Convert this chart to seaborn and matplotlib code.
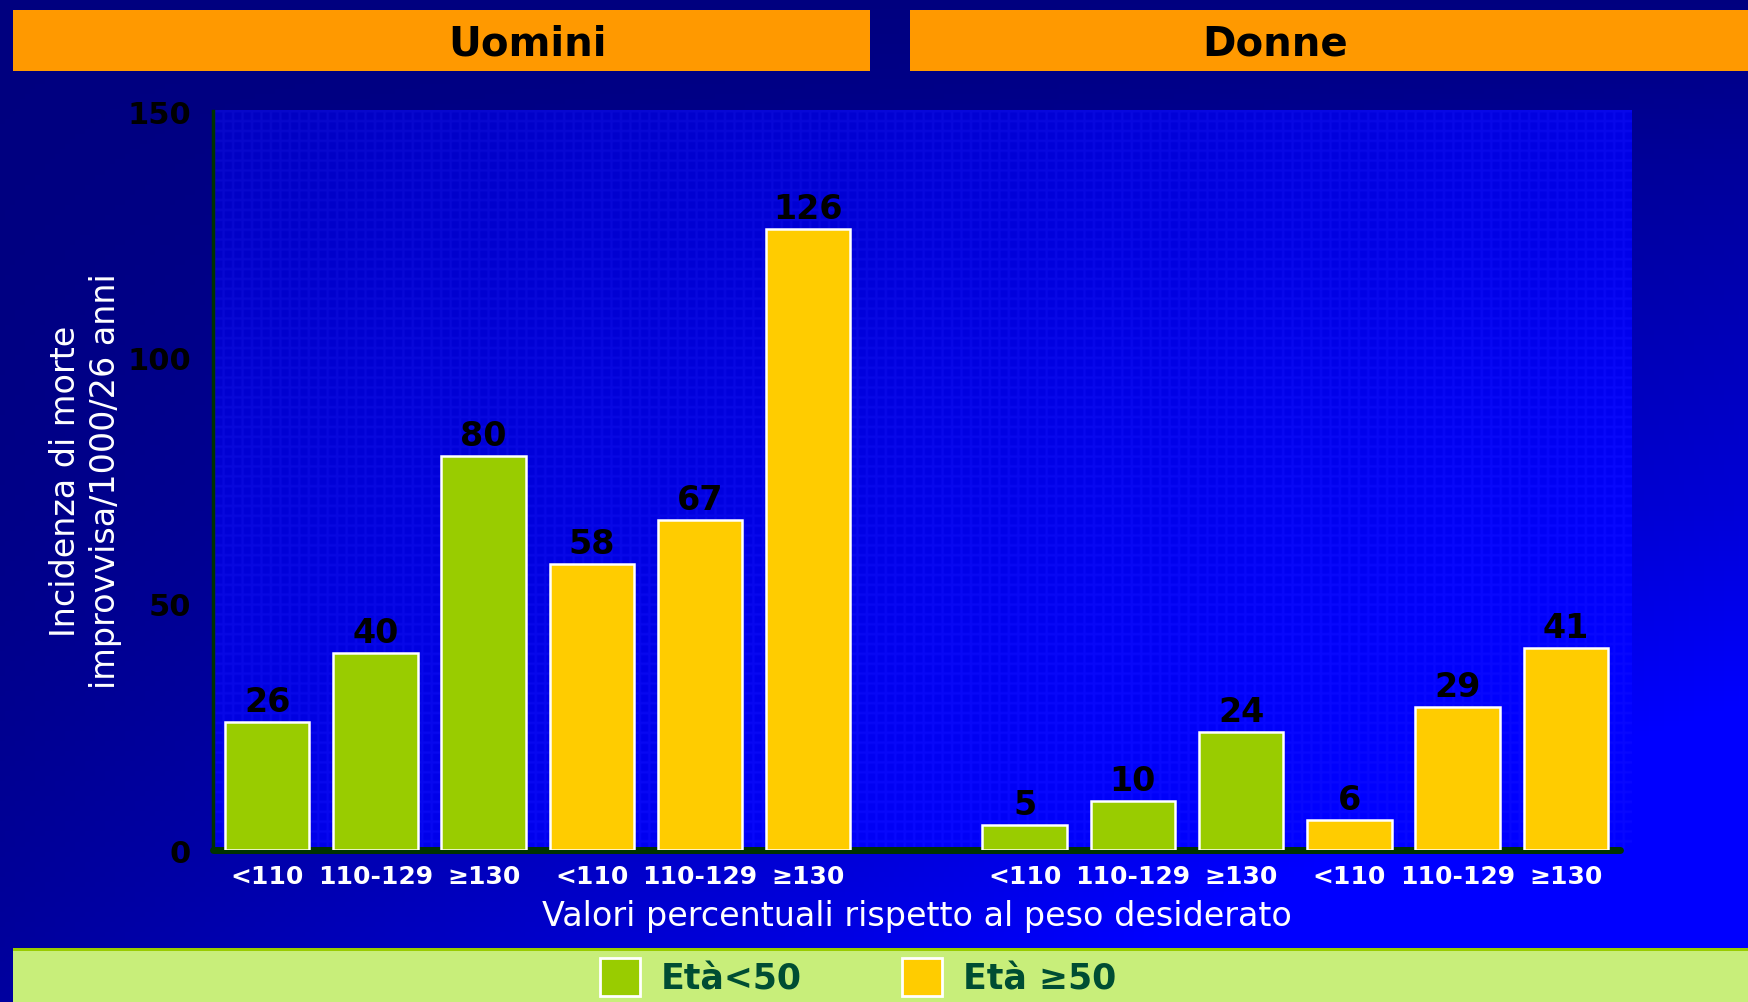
import numpy as np
import pandas as pd
import matplotlib.pyplot as plt
from matplotlib.patches import Rectangle
import seaborn as sns

# Data ==============================================================================
sex = ['Uomini', 'Donne']
age_groups = ['Età<50', 'Età ≥50']
weight_cats = ['<110', '110-129', '≥130']
uomini_young = [26, 40, 80]
uomini_old = [58, 67, 126]
donne_young = [5, 10, 24]
donne_old = [6, 29, 41]

green = '#99CC00'
yellow = '#FFCC00'

rows = []
for s, young, old in [(sex[0], uomini_young, uomini_old), (sex[1], donne_young, donne_old)]:
    for age, vals in [(age_groups[0], young), (age_groups[1], old)]:
        for w, v in zip(weight_cats, vals):
            rows.append({'slot': s + '|' + age + '|' + w, 'age': age, 'weight': w, 'value': v})
df = pd.DataFrame(rows)

order = list(df.loc[df.slot.str.startswith('Uomini'), 'slot']) + ['gap'] + \
        list(df.loc[df.slot.str.startswith('Donne'), 'slot'])

# Figure ==============================================================================
sns.set_style('white')
plt.rcParams['font.family'] = ['DejaVu Sans']

fig = plt.figure(figsize=(17.49, 10.03), dpi=100)

# background gradient (navy -> blue)
bg = fig.add_axes([0, 0, 1, 1], zorder=-10)
yy, xx = np.mgrid[0:1:200j, 0:1:350j]
s = np.clip(1.25 * xx * yy + 0.25 * yy * yy, 0, 1)
img = np.zeros((200, 350, 3))
img[..., 2] = 0.5 + 0.5 * s
bg.imshow(img, aspect='auto', extent=[0, 1, 0, 1], origin='upper')
bg.set_axis_off()

ax = fig.add_axes([0.1218, 0.1515, 0.8044, 0.7368])

sns.barplot(data=df, x='slot', y='value', hue='age', order=order,
            hue_order=age_groups, palette=[green, yellow], dodge=False,
            width=0.78, edgecolor='white', linewidth=1.8, saturation=1,
            ax=ax, zorder=3)

# plot-area gradient with faint grid texture
yy2, xx2 = np.mgrid[0:1:300j, 0:1:600j]
s2 = np.clip(0.55 * xx2 + 0.6 * yy2, 0, 1)
pimg = np.zeros((300, 600, 3))
pimg[..., 2] = 0.76 + 0.24 * s2
grid = ((np.arange(600) % 4 == 0)[None, :] | (np.arange(300) % 4 == 0)[:, None])
pimg[..., 0] += grid * 0.03
pimg[..., 1] += grid * 0.03
pimg[..., 2] += grid * 0.03
pimg = np.clip(pimg, 0, 1)
ax.imshow(pimg, aspect='auto', extent=[0, 1.008, 0, 1], transform=ax.transAxes,
          zorder=0, clip_on=False)

ax.set_xlim(-0.5, 12.5)
ax.set_ylim(0, 150)
ax.set_yticks([0, 50, 100, 150])
ax.set_yticklabels(['0', '50', '100', '150'], fontsize=22, fontweight='heavy', color='black')
ax.set_xticks(range(len(order)))
ax.set_xticklabels([o.split('|')[2] if o != 'gap' else '' for o in order],
                   fontsize=18, fontweight='bold', color='white')
ax.tick_params(axis='x', length=0, pad=10)
ax.tick_params(axis='y', length=0, pad=16)

for c in ax.containers:
    ax.bar_label(c, fontsize=24, fontweight='heavy', color='black', padding=3)

for side in ['top', 'right']:
    ax.spines[side].set_visible(False)
ax.spines['left'].set_color('#003300')
ax.spines['left'].set_linewidth(2.5)
ax.spines['bottom'].set_color('#003300')
ax.spines['bottom'].set_linewidth(5)
ax.spines['bottom'].set_capstyle('round')
ax.set_facecolor('none')

ax.set_xlabel('Valori percentuali rispetto al peso desiderato', fontsize=24,
              color='white', labelpad=8)
ax.set_ylabel('Incidenza di morte\nimprovvisa/1000/26 anni', fontsize=24,
              color='white', labelpad=4, linespacing=1.25)
ax.get_legend().remove()

# header bands
W, H = 1749, 1003
for x0, x1 in [(13, 870), (910, 1749)]:
    fig.patches.append(Rectangle((x0 / W, 1 - 72 / H), (x1 - x0) / W, 61 / H,
                                 transform=fig.transFigure, facecolor='#FF9900',
                                 edgecolor='none', zorder=1))
fig.text(528 / W, 1 - 45 / H, sex[0], ha='center', va='center',
         fontsize=29, fontweight='bold', color='black')
fig.text(1275 / W, 1 - 45 / H, sex[1], ha='center', va='center',
         fontsize=29, fontweight='bold', color='black')

# legend band
fig.patches.append(Rectangle((13 / W, 0), (W - 13) / W, 53 / H, transform=fig.transFigure,
                             facecolor='#C8EE7A', edgecolor='none', zorder=1))
fig.patches.append(Rectangle((13 / W, 51 / H), (W - 13) / W, 3 / H, transform=fig.transFigure,
                             facecolor='#99CC00', edgecolor='none', zorder=1))
handles = [Rectangle((0, 0), 1, 1, facecolor=green, edgecolor='white', linewidth=2),
           Rectangle((0, 0), 1, 1, facecolor=yellow, edgecolor='white', linewidth=2)]
leg = fig.legend(handles, age_groups, loc='center', bbox_to_anchor=(0.4905, 25 / H),
                 ncol=2, frameon=False, handlelength=1.15, handleheight=1.3,
                 columnspacing=2.9, handletextpad=0.6,
                 prop={'weight': 'bold', 'size': 25})
for t in leg.get_texts():
    t.set_color('#004D33')

fig.savefig('out.png', dpi=100)
